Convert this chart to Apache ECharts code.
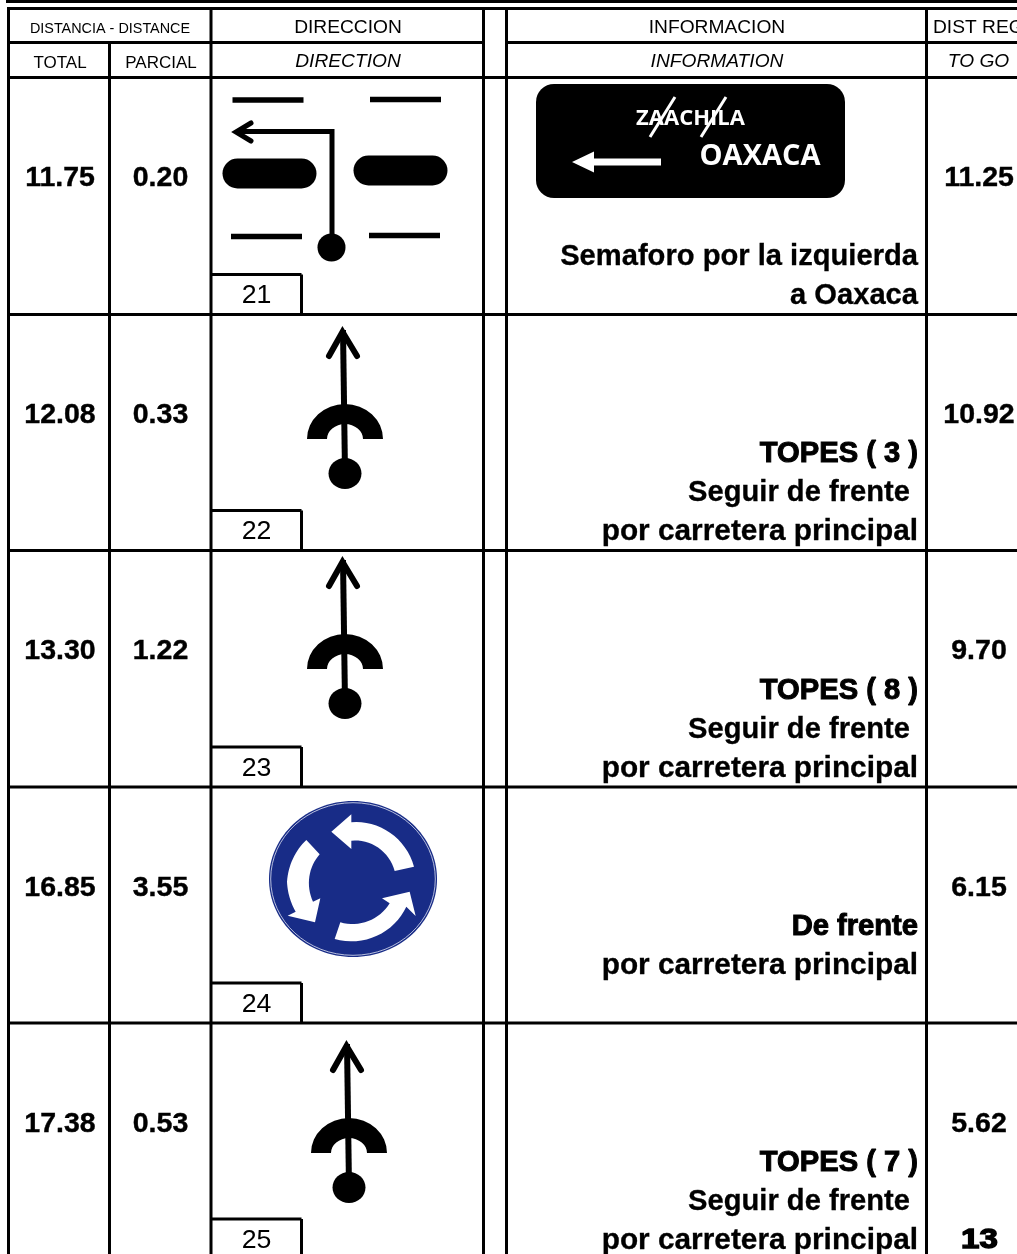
<html lang="es">
<head>
<meta charset="UTF-8">
<title>Roadbook</title>
<script src="https://cdn.jsdelivr.net/npm/echarts@6/dist/echarts.min.js"></script>
<style>html,body{margin:0;padding:0;background:#fff;overflow:hidden}</style>
</head>
<body>
<div id="main" style="width:1017px;height:1254px;"></div>
<script type="text/javascript">
// values
var totalKm = ['11.75', '12.08', '13.30', '16.85', '17.38'];
var parcialKm = ['0.20', '0.33', '1.22', '3.55', '0.53'];
var toGoKm = ['11.25', '10.92', '9.70', '6.15', '5.62'];
var stepNo = ['21', '22', '23', '24', '25'];
var iconKind = ['junction', 'straight', 'straight', 'roundabout', 'straight'];
var infoHead = ['', 'TOPES ( 3 )', 'TOPES ( 8 )', 'De frente', 'TOPES ( 7 )'];
var infoLines = [
	['Semaforo por la izquierda', 'a Oaxaca'],
	['Seguir de frente ', 'por carretera principal'],
	['Seguir de frente ', 'por carretera principal'],
	['por carretera principal', ''],
	['Seguir de frente ', 'por carretera principal']
];
var headTop = ['DISTANCIA - DISTANCE', 'DIRECCION', 'INFORMACION', 'DIST REG'];
var headSub = ['TOTAL', 'PARCIAL', 'DIRECTION', 'INFORMATION', 'TO GO'];
var pageNo = '13';

// layout of the sheet, in page pixels
var rowEdge = [77.5, 314.5, 550.5, 787, 1023, 1259];
var colEdge = [8.5, 109.5, 211, 483.5, 506.5, 926.5];
var iconX = [0, 345, 345, 353, 349];
var iconY = [0, 439, 669, 879, 1153];
var FONT = '"Liberation Sans", Arial, sans-serif';

var rules = [
	[6, 1.5, 1017, 1.5],
	[7, 8.5, 1017, 8.5],
	[8.5, 42.5, 483.5, 42.5],
	[506.5, 42.5, 1017, 42.5],
	[colEdge[0], 7, colEdge[0], 1254],
	[colEdge[1], 42.5, colEdge[1], 1254],
	[colEdge[2], 7, colEdge[2], 1254],
	[colEdge[3], 7, colEdge[3], 1254],
	[colEdge[4], 7, colEdge[4], 1254],
	[colEdge[5], 7, colEdge[5], 1254]
];
rowEdge.forEach(function (y) { rules.push([7, y, 1017, y]); });
rowEdge.slice(1).forEach(function (y) {
	rules.push([211, y - 40, 301.5, y - 40]);
	rules.push([301.5, y - 40, 301.5, y]);
});

function label(txt, x, y, size, opt) {
	opt = opt || {};
	return {
		type: 'text',
		silent: true,
		style: {
			text: txt, x: x, y: y,
			font: (opt.style || '') + ' ' + (opt.weight || 'normal') + ' ' + size + 'px ' + (opt.family || FONT),
			fill: opt.fill || '#000',
			stroke: opt.heavy ? (opt.fill || '#000') : null,
			lineWidth: opt.heavy || 0,
			align: opt.align || 'center',
			verticalAlign: 'middle'
		}
	};
}

function seg(x1, y1, x2, y2, w, color) {
	return {
		type: 'line',
		shape: { x1: x1, y1: y1, x2: x2, y2: y2 },
		style: { stroke: color || '#000', lineWidth: w, lineCap: 'butt' }
	};
}

function pill(x, y, w, h) {
	return { type: 'rect', shape: { x: x, y: y, width: w, height: h, r: h / 2 }, style: { fill: '#000' } };
}

function poly(list, color) {
	return {
		type: 'polygon',
		shape: { points: list },
		style: { fill: color }
	};
}

// left turn at the lights, drawn in page pixels
function junctionIcon(api) {
	var o = api.coord([0, 0]);
	return {
		type: 'group', x: o[0], y: o[1],
		children: [
			seg(232.5, 100, 303.5, 100, 5.5),
			seg(370, 99.5, 441, 99.5, 5.5),
			seg(231, 236.5, 302, 236.5, 5.5),
			seg(369, 235.5, 440, 235.5, 5.5),
			pill(222.5, 158.5, 94, 30),
			pill(353.5, 155.5, 94, 30),
			{ type: 'polyline', shape: { points: [[332, 247], [332, 131.5], [236, 131.5]] }, style: { stroke: '#000', lineWidth: 5, fill: null } },
			{ type: 'polyline', shape: { points: [[251, 123], [236, 132], [251, 141]] }, style: { stroke: '#000', lineWidth: 5, fill: null, lineCap: 'round' } },
			{ type: 'circle', shape: { cx: 331.5, cy: 247.5, r: 14 }, style: { fill: '#000' } }
		]
	};
}

// straight on over a speed bump, origin at the centre of the hump base
function straightIcon(api, row) {
	var o = api.coord([iconX[row], iconY[row]]);
	return {
		type: 'group', x: o[0], y: o[1],
		children: [
			seg(-2, -109, 0, 34, 6),
			{ type: 'polyline', shape: { points: [[-16, -83], [-2.5, -107], [12, -83]] }, style: { stroke: '#000', lineWidth: 6, fill: null, lineCap: 'round', lineJoin: 'miter' } },
			{ type: 'path', shape: { pathData: 'M-38 0A38 35 0 0 1 38 0L18 0A18 15 0 0 0 -18 0Z', x: -38, y: -35, width: 76, height: 35, layout: 'cover' }, style: { fill: '#000' } },
			{ type: 'ellipse', shape: { cx: 0, cy: 34.5, rx: 16.5, ry: 15.5 }, style: { fill: '#000' } }
		]
	};
}

function third(list) {
	return list.map(function (p) { return [(p[0] - 430) / 3, (p[1] - 282) / 3]; });
}

// sweeps between two outline points round the middle of the sign
function sweep(a, b) {
	var cx = 430, cy = 285, out = [];
	var r0 = Math.hypot(a[0] - cx, a[1] - cy), r1 = Math.hypot(b[0] - cx, b[1] - cy);
	var t0 = Math.atan2(a[1] - cy, a[0] - cx), t1 = Math.atan2(b[1] - cy, b[0] - cx);
	if (t1 - t0 > Math.PI) t1 -= 2 * Math.PI;
	if (t1 - t0 < -Math.PI) t1 += 2 * Math.PI;
	for (var i = 0; i <= 16; i++) {
		var k = i / 16, r = r0 + (r1 - r0) * k, t = t0 + (t1 - t0) * k;
		out.push([cx + r * Math.cos(t), cy + r * Math.sin(t)]);
	}
	return out;
}

// blue mini-roundabout sign, origin at its centre
function roundaboutIcon(api, row) {
	var o = api.coord([iconX[row], iconY[row]]);
	var blue = '#182c87';
	var arrowA = [[365, 140], [425, 88]].concat(sweep([425, 112], [613, 245]), sweep([555, 258], [425, 167]), [[425, 192]]);
	var arrowB = sweep([392, 412], [540, 355]).concat([[517, 340], [600, 320], [618, 393]], sweep([590, 365], [375, 462]));
	var arrowC = [[290, 165]].concat(sweep([330, 208], [310, 350]), [[332, 340], [316, 412], [234, 392]], sweep([258, 380], [232, 290]), sweep([232, 290], [290, 165]));
	return {
		type: 'group', x: o[0], y: o[1],
		children: [
			{ type: 'ellipse', shape: { cx: 0, cy: 0, rx: 84, ry: 78 }, style: { fill: blue } },
			{ type: 'ellipse', shape: { cx: 0, cy: 0, rx: 82.3, ry: 76.3 }, style: { fill: null, stroke: '#dfe3f2', lineWidth: 0.8 } },
			poly(third(arrowA), '#fff'),
			poly(third(arrowB), '#fff'),
			poly(third(arrowC), '#fff')
		]
	};
}

// black direction panel above the first instruction
function signPanel(api) {
	var o = api.coord([0, 0]);
	var sans = '"Open Sans", "Noto Sans", sans-serif';
	return {
		type: 'group', x: o[0], y: o[1],
		children: [
			{ type: 'rect', shape: { x: 536, y: 84, width: 309, height: 114, r: 18 }, style: { fill: '#000' } },
			label('ZAACHILA', 690.5, 119, 22, { weight: 'bold', family: sans, fill: '#fff' }),
			seg(650, 137, 675, 97, 3, '#fff'),
			seg(701, 137, 726, 97, 3, '#fff'),
			label('OAXACA', 760, 157, 29, { weight: 'bold', family: sans, fill: '#fff' }),
			poly([[572, 162], [594, 151.5], [594, 158.5], [661, 158.5], [661, 165.5], [594, 165.5], [594, 172.5]], '#fff')
		]
	};
}

var myChart = echarts.init(document.getElementById('main'));
var option = {
	animation: false,
	backgroundColor: '#fff',
	grid: { left: 0, right: 0, top: 0, bottom: 0 },
	xAxis: { type: 'value', min: 0, max: 1017, show: false },
	yAxis: { type: 'value', min: 0, max: 1254, inverse: true, show: false },
	series: [{
		name: 'reglas',
		type: 'custom',
		silent: true,
		clip: true,
		data: rules,
		renderItem: function (params, api) {
			var a = api.coord([api.value(0), api.value(1)]);
			var b = api.coord([api.value(2), api.value(3)]);
			return seg(a[0], a[1], b[0], b[1], 3);
		}
	}, {
		name: 'encabezado',
		type: 'custom',
		silent: true,
		clip: true,
		data: [[0, 0]],
		renderItem: function (params, api) {
			var o = api.coord([0, 0]);
			return {
				type: 'group', x: o[0], y: o[1],
				children: [
					label(headTop[0], 110, 29, 14.4),
					label(headTop[1], 348, 27.5, 19.2),
					label(headTop[2], 717, 27.5, 19.2),
					label(headTop[3], 933, 27.5, 19.2, { align: 'left' }),
					label(headSub[0], 60, 63.5, 17),
					label(headSub[1], 161, 63.5, 17),
					label(headSub[2], 348, 62, 19.2, { style: 'italic' }),
					label(headSub[3], 717, 62, 19.2, { style: 'italic' }),
					label(headSub[4], 978.5, 62, 19.2, { style: 'italic' })
				]
			};
		}
	}, {
		name: 'filas',
		type: 'custom',
		silent: true,
		clip: true,
		data: totalKm.map(function (v, i) { return [i, rowEdge[i]]; }),
		renderItem: function (params, api) {
			var row = params.dataIndex;
			var top = rowEdge[row], bottom = rowEdge[row + 1];
			var o = api.coord([0, 0]);
			var bold = { weight: 'bold', heavy: 0.4 };
			var kids = [
				label(totalKm[row], 60, top + 101, 28.5, bold),
				label(parcialKm[row], 160.5, top + 101, 28.5, bold),
				label(toGoKm[row], 979, top + 101, 28.5, bold),
				label(stepNo[row], 256.5, bottom - 18.5, 26.7)
			];
			var lines = infoLines[row];
			lines.forEach(function (txt, k) {
				if (!txt) return;
				var size = txt.indexOf('por carretera') === 0 ? 29.8 : 29.15;
				kids.push(label(txt, 918, bottom - 18.5 - (lines.length - 1 - k) * 39, size, { weight: 'bold', align: 'right', heavy: 0.3 }));
			});
			if (infoHead[row]) {
				kids.push(label(infoHead[row], 918, bottom - 18.5 - lines.length * 39, 29.15, { weight: 'bold', align: 'right', heavy: 1 }));
			}
			var children = [{ type: 'group', x: o[0], y: o[1], children: kids }];
			if (iconKind[row] === 'junction') {
				children.push(junctionIcon(api), signPanel(api));
			} else if (iconKind[row] === 'straight') {
				children.push(straightIcon(api, row));
			} else {
				children.push(roundaboutIcon(api, row));
			}
			return { type: 'group', children: children };
		}
	}, {
		name: 'pagina',
		type: 'custom',
		silent: true,
		clip: true,
		data: [[979.5, 1240]],
		renderItem: function (params, api) {
			var c = api.coord([api.value(0), api.value(1)]);
			return {
				type: 'group', x: c[0], y: c[1], scaleX: 1.18,
				children: [label(pageNo, 0, 0, 28, { weight: 'bold', heavy: 1.4 })]
			};
		}
	}]
};
myChart.setOption(option);
</script>
</body>
</html>
